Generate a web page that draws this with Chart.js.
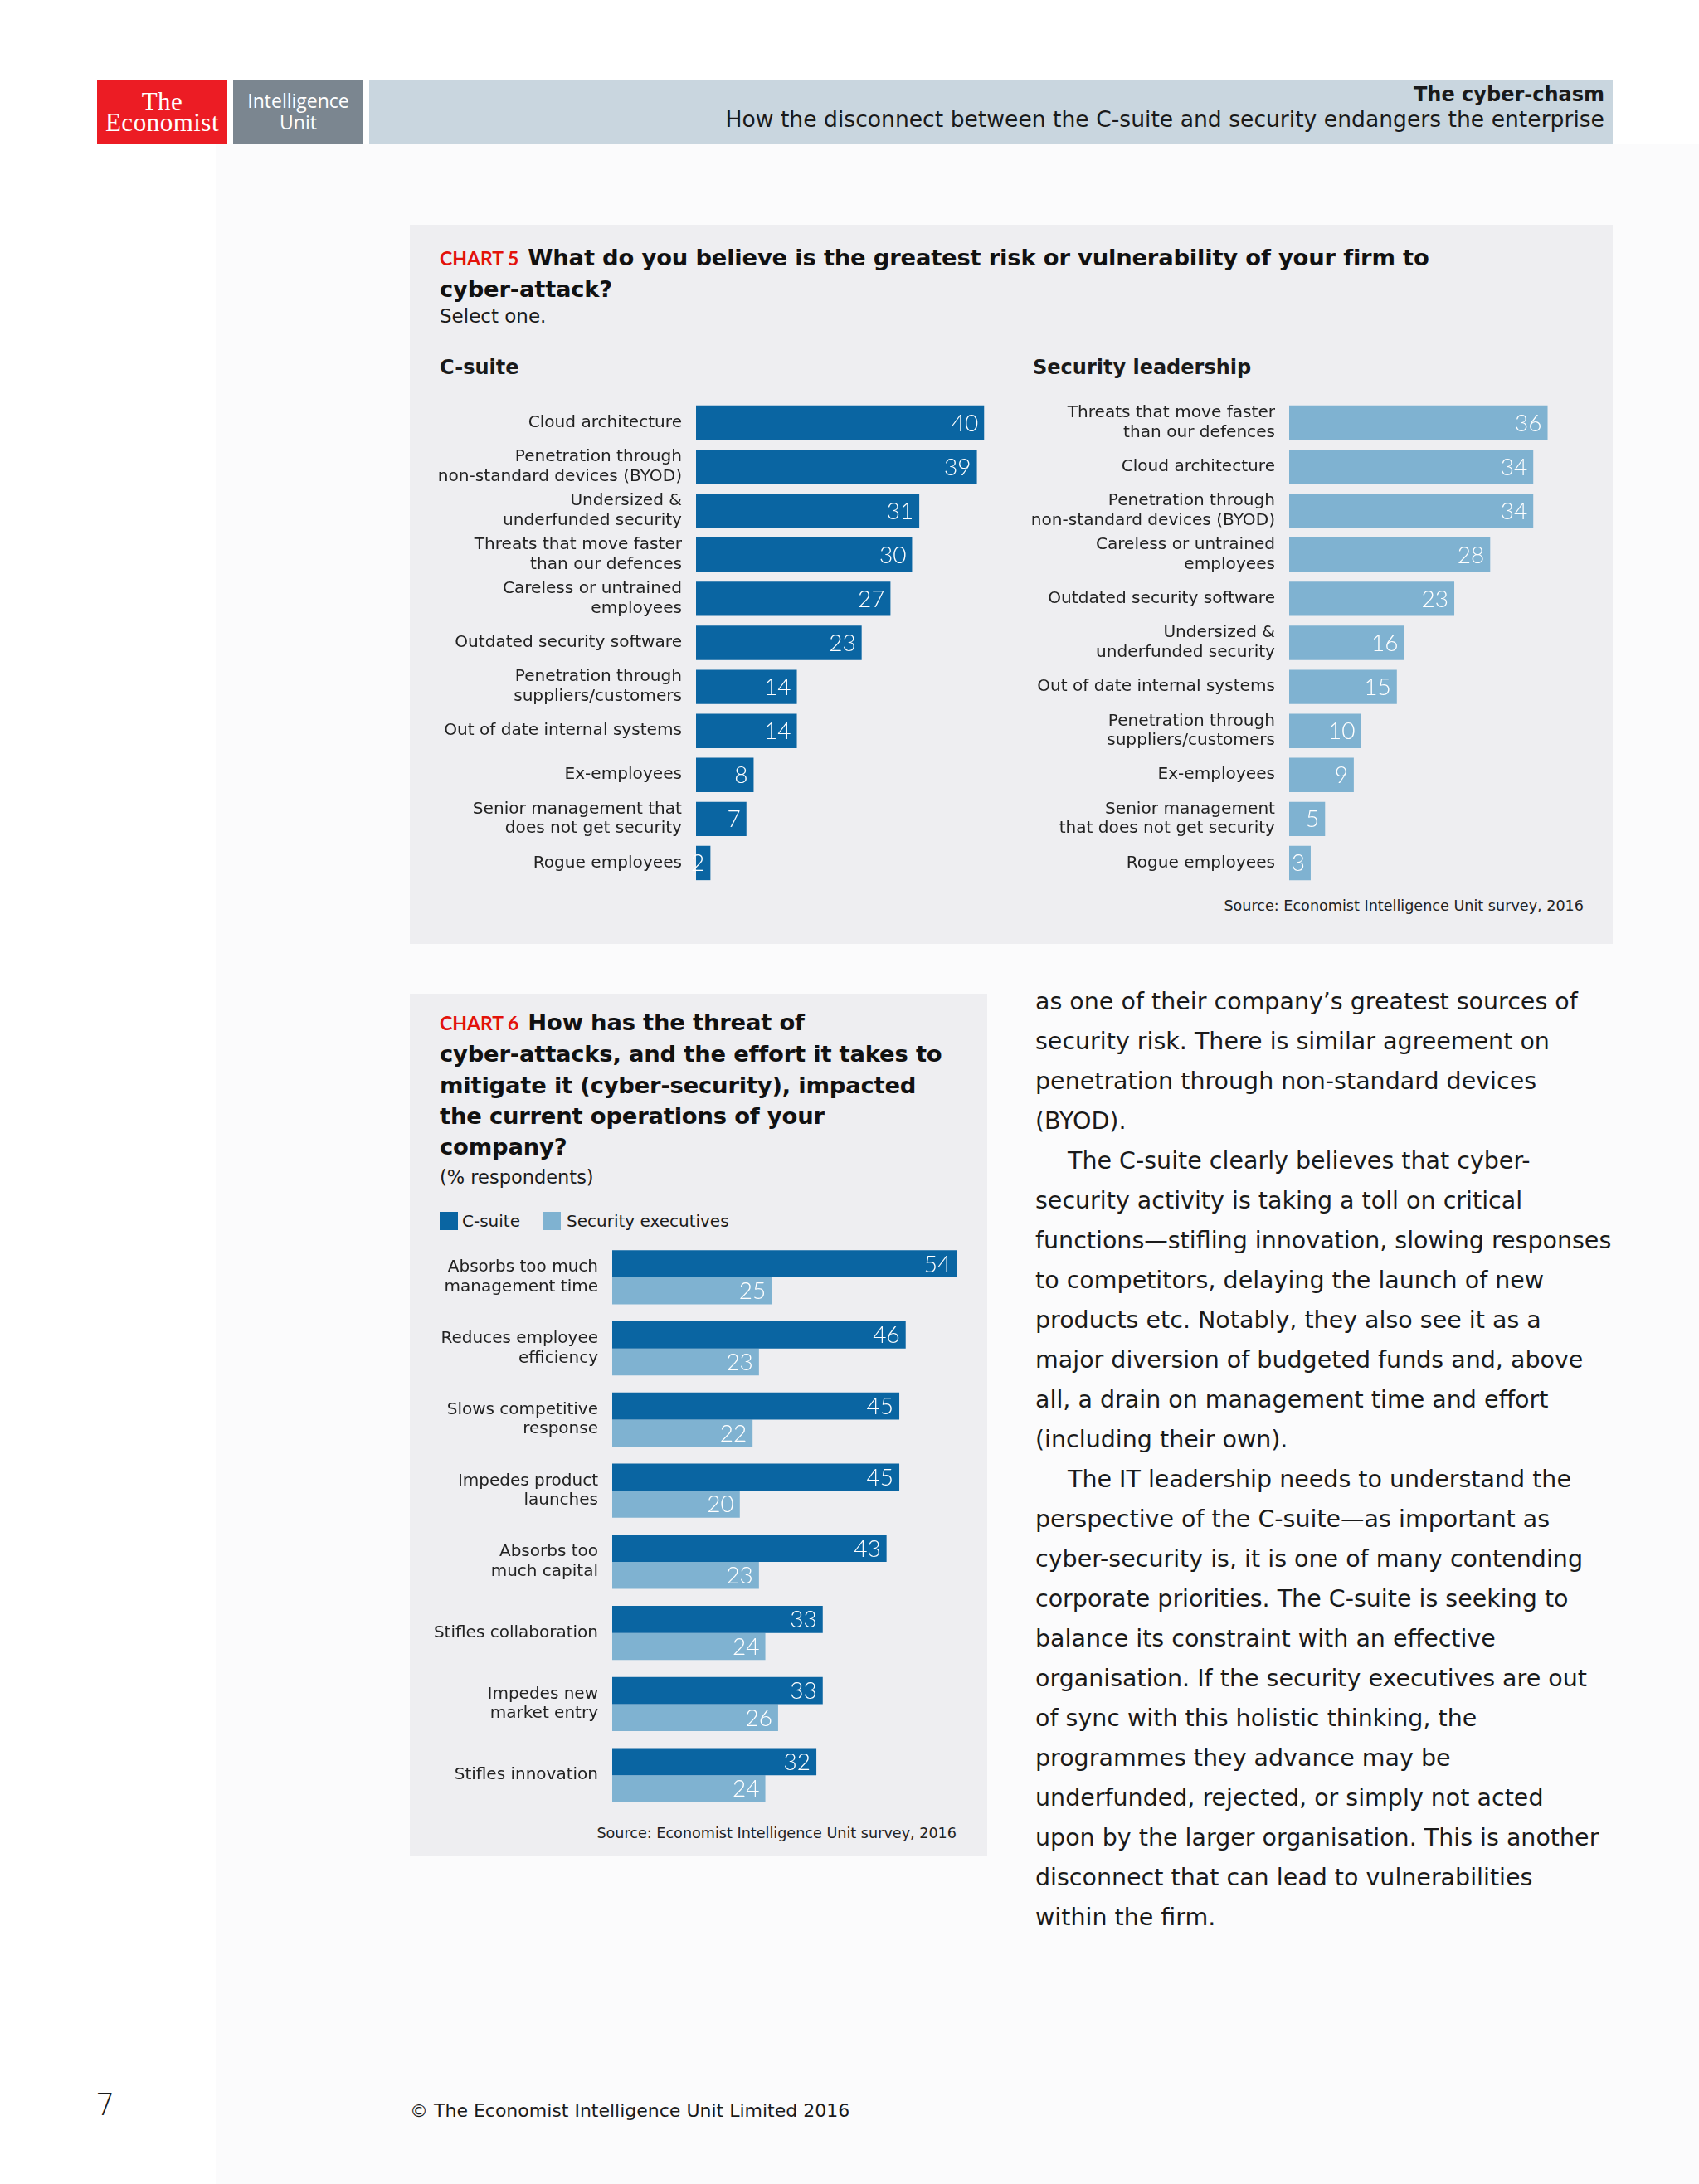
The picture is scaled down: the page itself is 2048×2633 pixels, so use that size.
<!DOCTYPE html>
<html>
<head>
<meta charset="utf-8">
<script src="https://cdn.jsdelivr.net/npm/chart.js@4.4.1/dist/chart.umd.min.js"></script>
<style>
  html, body { margin: 0; padding: 0; background: #ffffff; }
  #page { position: relative; width: 2048px; height: 2633px; overflow: hidden; background: #ffffff; font-family: 'DejaVu Sans', sans-serif; color: #1a1a1a; }
  .abs { position: absolute; white-space: nowrap; }
  .tint { position: absolute; left: 260px; top: 174px; width: 1788px; height: 2459px; background: #fbfbfc; }
  .band { position: absolute; left: 445px; top: 97px; width: 1499px; height: 77px; background: #c9d6df; }
  .logo-red { position: absolute; left: 117px; top: 97px; width: 157px; height: 77px; background: #ec1c24; color: #fff; font-family: 'Liberation Serif', 'DejaVu Serif', serif; font-size: 31px; line-height: 25px; text-align: center; box-sizing: border-box; padding-top: 13px; letter-spacing: 0.5px; }
  .logo-grey { position: absolute; left: 281px; top: 97px; width: 157px; height: 77px; background: #7b8690; color: #fff; font-family: 'Open Sans', sans-serif; font-size: 23px; line-height: 26px; text-align: center; box-sizing: border-box; padding-top: 11px; }
  .panel { position: absolute; background: #eeeef1; }
  .bold { font-family: 'DejaVu Sans', sans-serif; font-weight: 700; }
  .title { font-family: 'DejaVu Sans', sans-serif; font-weight: 700; font-size: 27.4px; line-height: 37px; color: #111; letter-spacing: -0.2px; }
  .chartno { color: #e3120b; font-family: Lato, sans-serif; font-size: 23px; text-transform: uppercase; margin-right: 11px; letter-spacing: 0; }
  .sub { font-size: 23px; line-height: 26px; }
  .src { font-size: 17.6px; line-height: 20px; color: #222; }
  .body { position: absolute; left: 1248px; top: 1184px; font-size: 28.5px; line-height: 48px; color: #1a1a1a; }
  .body div { white-space: nowrap; }
  .body .ind { padding-left: 39px; }
  canvas { position: absolute; }
</style>
</head>
<body>
<div id="page">
  <div class="tint"></div>

  <div class="logo-red">The<br>Economist</div>
  <div class="logo-grey">Intelligence<br>Unit</div>
  <div class="band"></div>
  <div class="abs bold" style="right:114px; top:96px; font-size:24px; line-height:36px;">The cyber-chasm</div>
  <div class="abs" style="right:114px; top:128px; font-size:26.6px; line-height:32px;">How the disconnect between the C-suite and security endangers the enterprise</div>

  <!-- Chart 5 -->
  <div class="panel" style="left:494px; top:271px; width:1450px; height:867px;"></div>
  <div class="abs title" style="left:530px; top:292px;"><span class="chartno">Chart 5</span>What do you believe is the greatest risk or vulnerability of your firm to<br>cyber-attack?</div>
  <div class="abs sub" style="left:530px; top:368px;">Select one.</div>
  <div class="abs bold" style="left:530px; top:427px; font-size:24px; line-height:32px;">C-suite</div>
  <div class="abs bold" style="left:1245px; top:427px; font-size:24px; line-height:32px;">Security leadership</div>
  <canvas id="chartCsuite" width="740" height="584" style="left:494px; top:483px;"></canvas>
  <canvas id="chartSecurity" width="726" height="584" style="left:1220px; top:483px;"></canvas>
  <div class="abs src" style="right:139px; top:1082px;">Source: Economist Intelligence Unit survey, 2016</div>

  <!-- Chart 6 -->
  <div class="panel" style="left:494px; top:1198px; width:696px; height:1039px;"></div>
  <div class="abs title" style="left:530px; top:1214px; line-height:37.3px;"><span class="chartno">Chart 6</span>How has the threat of<br>cyber-attacks, and the effort it takes to<br>mitigate it (cyber-security), impacted<br>the current operations of your<br>company?</div>
  <div class="abs" style="left:530px; top:1406px; font-size:22.5px; line-height:26px;">(% respondents)</div>
  <div class="abs" style="left:530px; top:1461px; width:22px; height:22px; background:#0a65a2;"></div>
  <div class="abs" style="left:557px; top:1459px; font-size:20px; line-height:26px;">C-suite</div>
  <div class="abs" style="left:654px; top:1461px; width:22px; height:22px; background:#7fb2d1;"></div>
  <div class="abs" style="left:683px; top:1459px; font-size:20px; line-height:26px;">Security executives</div>
  <canvas id="chartImpact" width="690" height="686" style="left:494px; top:1497px;"></canvas>
  <div class="abs src" style="right:895px; top:2200px;">Source: Economist Intelligence Unit survey, 2016</div>

  <!-- body text -->
  <div class="body">
    <div>as one of their company’s greatest sources of</div>
    <div>security risk. There is similar agreement on</div>
    <div>penetration through non-standard devices</div>
    <div>(BYOD).</div>
    <div class="ind">The C-suite clearly believes that cyber-</div>
    <div>security activity is taking a toll on critical</div>
    <div>functions—stifling innovation, slowing responses</div>
    <div>to competitors, delaying the launch of new</div>
    <div>products etc. Notably, they also see it as a</div>
    <div>major diversion of budgeted funds and, above</div>
    <div>all, a drain on management time and effort</div>
    <div>(including their own).</div>
    <div class="ind">The IT leadership needs to understand the</div>
    <div>perspective of the C-suite—as important as</div>
    <div>cyber-security is, it is one of many contending</div>
    <div>corporate priorities. The C-suite is seeking to</div>
    <div>balance its constraint with an effective</div>
    <div>organisation. If the security executives are out</div>
    <div>of sync with this holistic thinking, the</div>
    <div>programmes they advance may be</div>
    <div>underfunded, rejected, or simply not acted</div>
    <div>upon by the larger organisation. This is another</div>
    <div>disconnect that can lead to vulnerabilities</div>
    <div>within the firm.</div>
  </div>

  <div class="abs" style="left:115px; top:2516px; font-size:37px; line-height:44px; font-weight:300;">7</div>
  <div class="abs" style="left:494px; top:2531px; font-size:22px; line-height:28px;">© The Economist Intelligence Unit Limited 2016</div>
</div>

<script>
// Chart 5 data
const csuiteLabels = [
  ['Cloud architecture'],
  ['Penetration through', 'non-standard devices (BYOD)'],
  ['Undersized &', 'underfunded security'],
  ['Threats that move faster', 'than our defences'],
  ['Careless or untrained', 'employees'],
  ['Outdated security software'],
  ['Penetration through', 'suppliers/customers'],
  ['Out of date internal systems'],
  ['Ex-employees'],
  ['Senior management that', 'does not get security'],
  ['Rogue employees']
];
const csuiteValues = [40, 39, 31, 30, 27, 23, 14, 14, 8, 7, 2];

const securityLabels = [
  ['Threats that move faster', 'than our defences'],
  ['Cloud architecture'],
  ['Penetration through', 'non-standard devices (BYOD)'],
  ['Careless or untrained', 'employees'],
  ['Outdated security software'],
  ['Undersized &', 'underfunded security'],
  ['Out of date internal systems'],
  ['Penetration through', 'suppliers/customers'],
  ['Ex-employees'],
  ['Senior management', 'that does not get security'],
  ['Rogue employees']
];
const securityValues = [36, 34, 34, 28, 23, 16, 15, 10, 9, 5, 3];

// Chart 6 data
const impactLabels = [
  ['Absorbs too much', 'management time'],
  ['Reduces employee', 'efficiency'],
  ['Slows competitive', 'response'],
  ['Impedes product', 'launches'],
  ['Absorbs too', 'much capital'],
  ['Stifles collaboration'],
  ['Impedes new', 'market entry'],
  ['Stifles innovation']
];
const impactCsuite = [54, 46, 45, 45, 43, 33, 33, 32];
const impactSecurity = [25, 23, 22, 20, 23, 24, 26, 24];

const darkBlue = '#0a65a2';
const lightBlue = '#7fb2d1';

// draws the white value inside the end of each bar
const valueLabels = {
  id: 'valueLabels',
  afterDatasetsDraw(chart) {
    const ctx = chart.ctx;
    ctx.save();
    ctx.fillStyle = '#ffffff';
    ctx.font = '300 28px Lato, sans-serif';
    ctx.textAlign = 'right';
    ctx.textBaseline = 'middle';
    chart.data.datasets.forEach((ds, i) => {
      chart.getDatasetMeta(i).data.forEach((bar, j) => {
        ctx.fillText(String(ds.data[j]), bar.x - 7, bar.y + 1);
      });
    });
    ctx.restore();
  }
};

function barOptions(axisWidth, max, catPct, fontSize, pad) {
  return {
    indexAxis: 'y',
    responsive: false,
    animation: false,
    layout: { padding: 0 },
    datasets: { bar: { categoryPercentage: catPct, barPercentage: 1 } },
    plugins: { legend: { display: false }, tooltip: { enabled: false } },
    scales: {
      x: { display: false, min: 0, max: max },
      y: {
        grid: { display: false, drawTicks: false },
        border: { display: false },
        ticks: {
          autoSkip: false, padding: pad, color: '#222',
          font: { family: "'DejaVu Sans', sans-serif", size: fontSize, lineHeight: 1.18 }
        },
        afterFit: (scale) => {
          scale.width = axisWidth;
          scale.paddingTop = 0;
          scale.paddingBottom = 0;
        }
      }
    }
  };
}

new Chart(document.getElementById('chartCsuite'), {
  type: 'bar',
  data: {
    labels: csuiteLabels,
    datasets: [{ label: 'C-suite', data: csuiteValues, backgroundColor: darkBlue, borderWidth: 0 }]
  },
  options: barOptions(345, 45.5, 0.78, 20.1, 17),
  plugins: [valueLabels]
});

new Chart(document.getElementById('chartSecurity'), {
  type: 'bar',
  data: {
    labels: securityLabels,
    datasets: [{ label: 'Security leadership', data: securityValues, backgroundColor: lightBlue, borderWidth: 0 }]
  },
  options: barOptions(334, 45.3, 0.78, 20.1, 17),
  plugins: [valueLabels]
});

new Chart(document.getElementById('chartImpact'), {
  type: 'bar',
  data: {
    labels: impactLabels,
    datasets: [
      { label: 'C-suite', data: impactCsuite, backgroundColor: darkBlue, borderWidth: 0 },
      { label: 'Security executives', data: impactSecurity, backgroundColor: lightBlue, borderWidth: 0 }
    ]
  },
  options: barOptions(244, 58, 0.762, 20, 17),
  plugins: [valueLabels]
});
</script>
</body>
</html>
